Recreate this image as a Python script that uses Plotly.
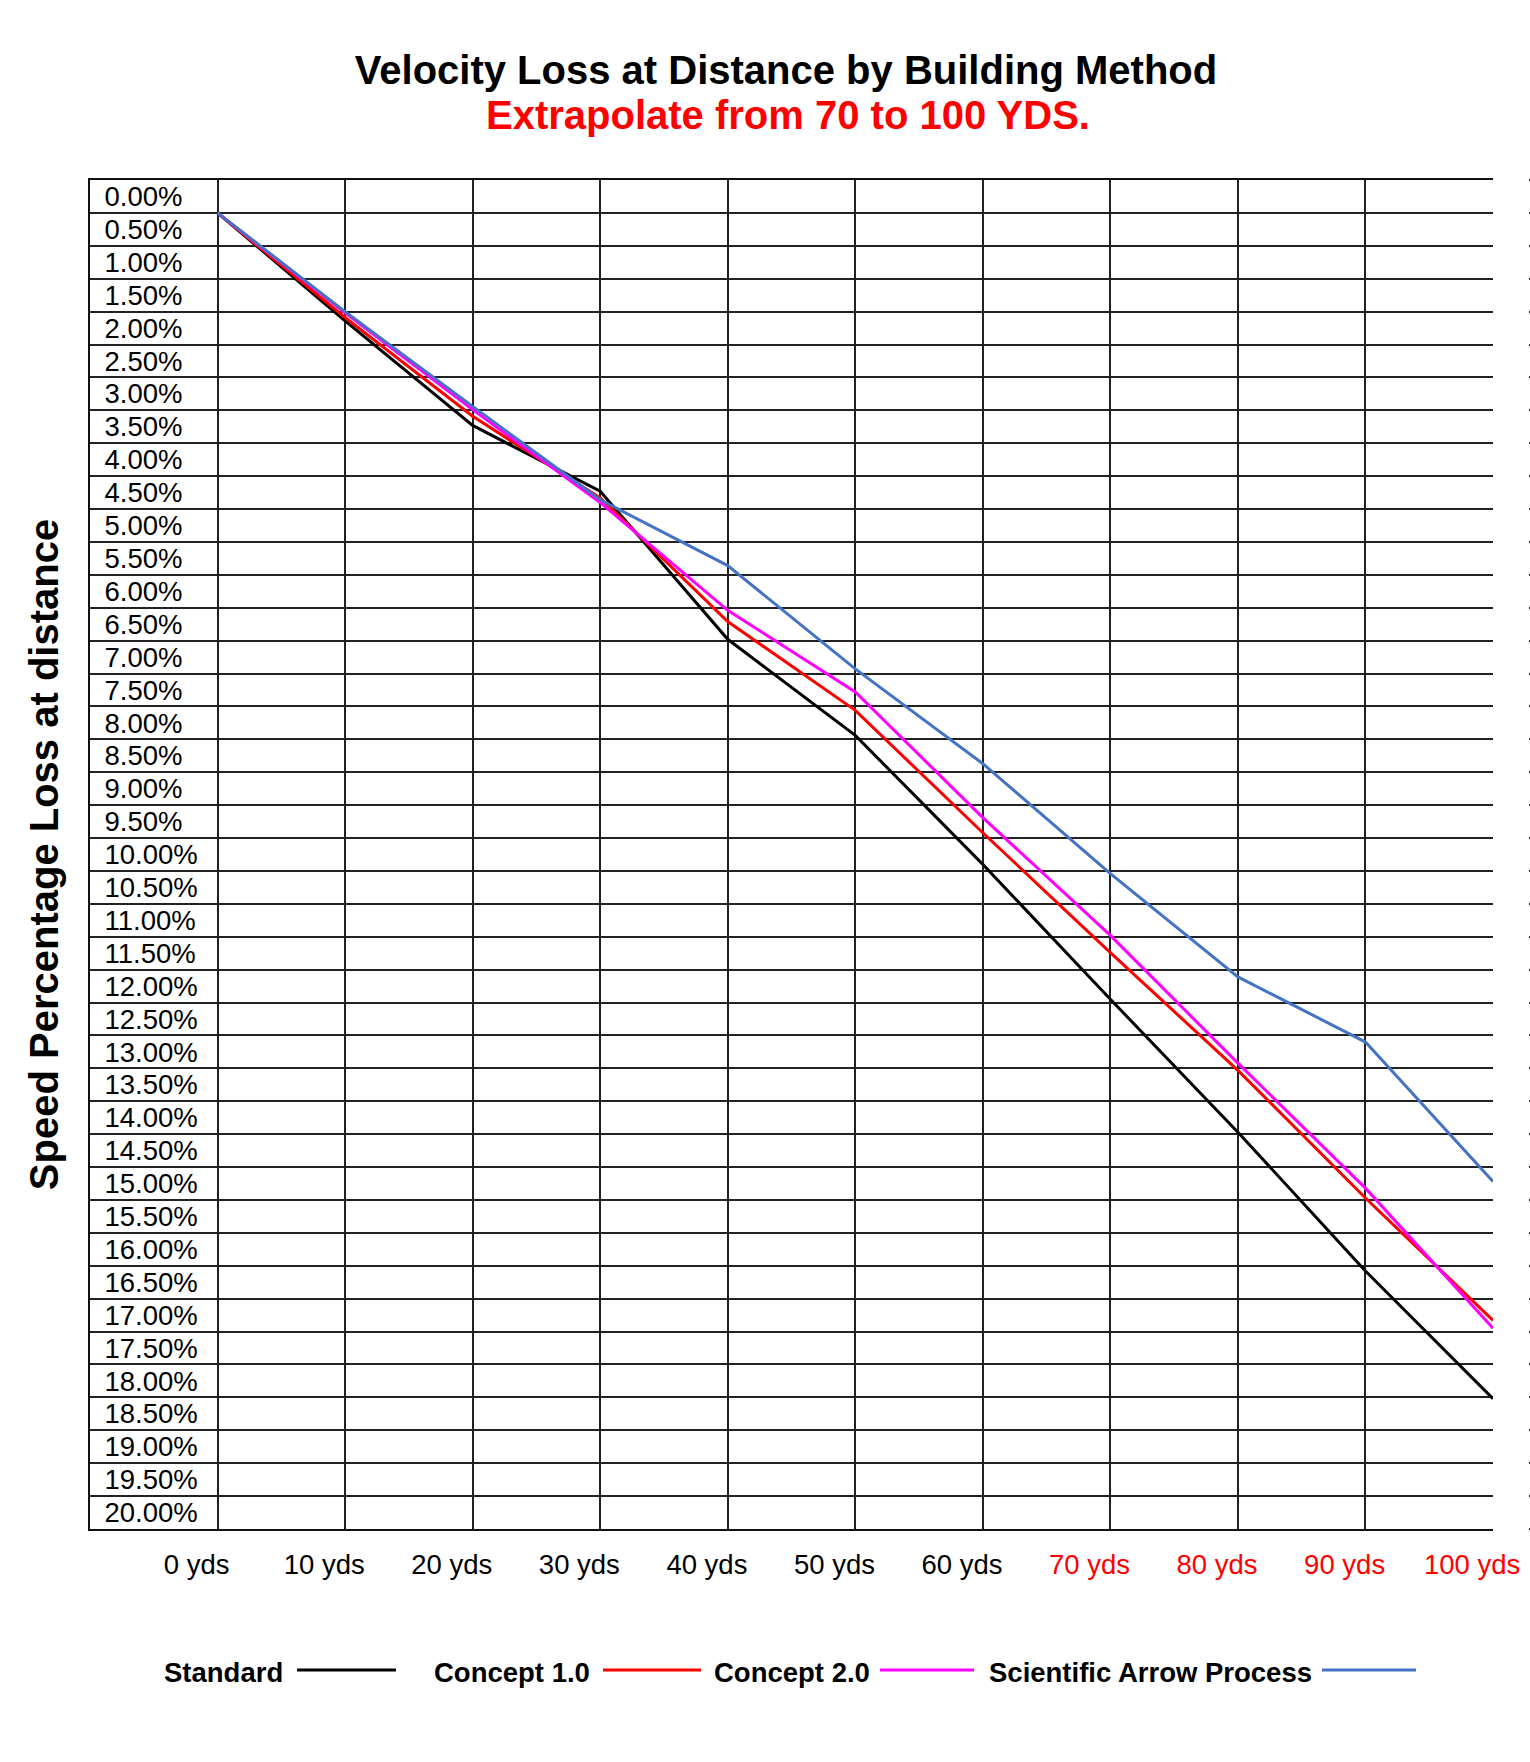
import plotly.graph_objects as go

# ---------------- data ----------------
distances = [0, 10, 20, 30, 40, 50, 60, 70, 80, 90, 100]
distance_labels = ["0 yds", "10 yds", "20 yds", "30 yds", "40 yds", "50 yds",
                   "60 yds", "70 yds", "80 yds", "90 yds", "100 yds"]
extrapolated_from = 70  # labels from here on are red

standard = [0.00, 1.64, 3.23, 4.23, 6.48, 7.94, 9.90, 11.95, 13.97, 16.08, 18.02]
concept_1 = [0.00, 1.59, 3.09, 4.33, 6.21, 7.56, 9.42, 11.24, 13.03, 14.97, 16.83]
concept_2 = [0.00, 1.52, 2.99, 4.40, 6.04, 7.28, 9.19, 10.98, 12.92, 14.82, 16.95]
scientific = [0.00, 1.50, 2.94, 4.36, 5.36, 6.93, 8.37, 10.04, 11.61, 12.60, 14.72]

series_names = ["Standard", "Concept 1.0", "Concept 2.0", "Scientific Arrow Process"]
series_values = [standard, concept_1, concept_2, scientific]
series_colors = ["#000000", "#FF0000", "#FF00FF", "#4472C4"]

pct_levels = [i * 0.5 for i in range(41)]          # 0.00% .. 20.00%
pct_labels = [f"{v:.2f}%" for v in pct_levels]

# ---------------- layout geometry ----------------
W, H = 1530, 1762
ML, MR, MT, MB = 90, 2, 180, 233
PLOT_RIGHT = 1493
paper_w = W - ML - MR
paper_h = H - MT - MB
x_dom_end = (PLOT_RIGHT - ML) / paper_w
X_LABEL_SHIFT = -0.3    # tick labels sit slightly left of their gridline
Y_LABEL_SHIFT = -0.25   # percentage labels sit in the row above their gridline


def px_x(px):
    return (px - ML) / paper_w


def px_y(py):
    return (H - MB - py) / paper_h


FONT = "Liberation Sans, Arial, Helvetica, sans-serif"

fig = go.Figure()
for name, vals, col in zip(series_names, series_values, series_colors):
    fig.add_trace(go.Scatter(
        x=distances, y=vals, name=name, mode="lines",
        line=dict(color=col, width=3), showlegend=False,
        hovertemplate="%{x} yds: %{y:.2f}%<extra>" + name + "</extra>",
    ))

# invisible companion trace so the right-hand tick axis gets drawn
fig.add_trace(go.Scatter(
    x=distances, y=standard, yaxis="y2", mode="lines",
    line=dict(width=0, color="rgba(0,0,0,0)"), hoverinfo="skip", showlegend=False,
))

x_ticktext = [
    (f"<span style='color:#FF0000'>{lab}</span>" if d >= extrapolated_from else lab)
    for d, lab in zip(distances, distance_labels)
]

fig.update_layout(
    width=W, height=H,
    margin=dict(l=ML, r=MR, t=MT, b=MB, pad=0, autoexpand=False),
    paper_bgcolor="white", plot_bgcolor="white",
    font=dict(family=FONT, color="black"),
    showlegend=False,
    title=dict(
        text="<b>Velocity Loss at Distance by Building Method</b>",
        font=dict(size=40, family=FONT, color="black"),
        x=786 / W, xanchor="center", xref="container",
        y=1 - 70 / H, yanchor="middle", yref="container",
    ),
    xaxis=dict(
        domain=[0, x_dom_end], automargin=False,
        range=[-10, 100],
        tickmode="array", tickvals=[d + X_LABEL_SHIFT for d in distances],
        ticktext=x_ticktext,
        tickfont=dict(size=27.5, family=FONT, color="black"),
        ticks="", ticklabelstandoff=10, ticklabelshift=-17,
        showgrid=False, zeroline=False,
        showline=True, linecolor="#111111", linewidth=2, mirror=True,
        minor=dict(tickmode="array", tickvals=distances[:-1], showgrid=True,
                   gridcolor="#222222", gridwidth=1.5, ticks=""),
    ),
    yaxis=dict(
        range=[20, -0.5], automargin=False,
        tickmode="array", tickvals=[v + Y_LABEL_SHIFT for v in pct_levels],
        ticktext=pct_labels,
        ticklabelposition="inside", ticks="", ticklabelstandoff=17,
        tickfont=dict(size=27.5, family=FONT, color="black"),
        showgrid=False, zeroline=False,
        showline=True, linecolor="#111111", linewidth=2,
        minor=dict(tickmode="array", tickvals=pct_levels[:-1], showgrid=True,
                   gridcolor="#222222", gridwidth=1.5, ticks=""),
        title=dict(text="<b>Speed Percentage Loss at distance</b>",
                   font=dict(size=40, family=FONT, color="black"), standoff=34),
    ),
    yaxis2=dict(
        overlaying="y", anchor="free", position=1, side="right", automargin=False,
        range=[20, -0.5],
        tickmode="array", tickvals=[-0.5] + pct_levels,
        ticks="outside", ticklen=3, tickwidth=1.5, tickcolor="#222222",
        showticklabels=False, showgrid=False, zeroline=False, showline=False,
    ),
)

# subtitle
fig.add_annotation(
    text="<b>Extrapolate from 70 to 100 YDS.</b>", xref="paper", yref="paper",
    x=px_x(788), y=px_y(115), xanchor="center", yanchor="middle", showarrow=False,
    font=dict(size=40, family=FONT, color="#FF0000"),
)

# ---------------- legend (text followed by line sample) ----------------
legend_y = 1672
legend_items = [  # (text right edge, line start, line end) in px
    (285, 297, 396),
    (592, 603, 701),
    (872, 880, 974),
    (1314, 1322, 1416),
]
for name, col, (tx, l0, l1) in zip(series_names, series_colors, legend_items):
    fig.add_annotation(
        text=f"<b>{name}</b>", xref="paper", yref="paper",
        x=px_x(tx), y=px_y(legend_y), xanchor="right", yanchor="middle",
        showarrow=False, font=dict(size=27.5, family=FONT, color="black"),
    )
    fig.add_shape(
        type="line", xref="paper", yref="paper",
        x0=px_x(l0), x1=px_x(l1), y0=px_y(legend_y - 2), y1=px_y(legend_y - 2),
        line=dict(color=col, width=3),
    )

fig.write_html("out.html")
